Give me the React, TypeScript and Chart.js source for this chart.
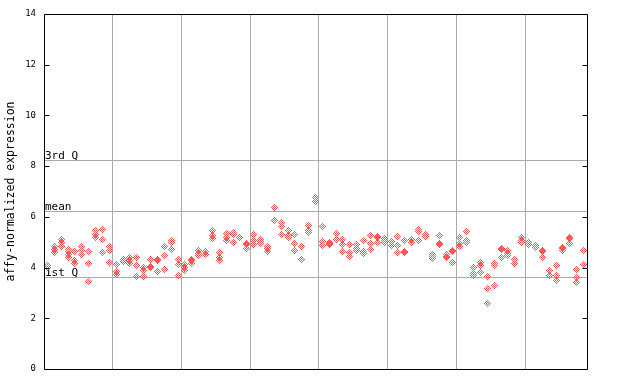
import React, { useEffect, useRef } from "react";
import { Chart, registerables } from "chart.js";

Chart.register(...registerables);

// Expression values, one inner list per sample column (10 columns per group)
const group1: number[][] = [
  [4.1, 4.0],
  [4.85, 4.72, 4.58],
  [5.11, 4.98, 4.85],
  [4.72, 4.64, 4.5, 4.38],
  [4.65, 4.27, 4.17],
  [4.82, 4.69, 4.52],
  [4.65, 4.18, 3.47],
  [5.46, 5.3, 5.18],
  [5.51, 5.09, 4.61],
  [4.85, 4.69, 4.2],
];
const group2: number[][] = [
  [4.13, 3.86, 3.73],
  [4.3, 4.22],
  [4.4, 4.27, 4.15],
  [4.4, 4.09, 3.65],
  [4.02, 3.9, 3.65],
  [4.3, 4.06, 4.0],
  [4.3, 4.26, 3.86],
  [4.84, 4.48, 3.93],
  [5.05, 4.98, 4.72],
  [4.32, 4.14, 3.69],
];
const group3: number[][] = [
  [4.13, 4.0, 3.9],
  [4.33, 4.27, 4.16],
  [4.67, 4.56, 4.46],
  [4.63, 4.51],
  [5.48, 5.26, 5.13],
  [4.6, 4.39, 4.27],
  [5.35, 5.19, 5.05],
  [5.38, 5.3, 4.99],
  [5.19],
  [4.94, 4.9, 4.76],
];
const group4: number[][] = [
  [5.32, 5.06, 4.91],
  [5.1, 5.03, 4.96],
  [4.85, 4.74, 4.64],
  [6.37, 5.86],
  [5.78, 5.63, 5.32],
  [5.48, 5.25, 5.19],
  [5.32, 4.93, 4.69],
  [4.83, 4.82, 4.3],
  [5.64, 5.48, 5.39],
  [6.77, 6.61],
];
const group5: number[][] = [
  [5.62, 5.02, 4.88],
  [5.0, 4.93, 4.9],
  [5.35, 5.09],
  [5.09, 4.92, 4.65],
  [4.92, 4.6, 4.43],
  [4.92, 4.76, 4.66],
  [5.05, 4.65, 4.56],
  [5.27, 4.93, 4.72],
  [5.24, 5.18, 4.97],
  [5.13, 5.05, 4.97],
];
const group6: number[][] = [
  [5.02, 4.86],
  [5.23, 4.88, 4.6],
  [5.05, 4.63, 4.58],
  [5.11, 4.98],
  [5.51, 5.43, 5.05],
  [5.32, 5.22],
  [4.5, 4.43, 4.36],
  [5.27, 4.94, 4.9],
  [4.5, 4.43, 4.4],
  [4.67, 4.64, 4.2],
];
const group7: number[][] = [
  [5.19, 4.93, 4.85],
  [5.43, 5.05, 4.97],
  [4.01, 3.76, 3.67],
  [4.19, 4.09, 3.81],
  [3.64, 3.19, 2.59],
  [4.17, 4.1, 3.3],
  [4.76, 4.7, 4.4],
  [4.67, 4.56, 4.48],
  [4.32, 4.17],
  [5.18, 5.05, 5.0],
];
const group8: number[][] = [
  [4.98, 4.92],
  [4.88, 4.8],
  [4.69, 4.63, 4.4],
  [3.89, 3.67],
  [4.09, 3.68, 3.5],
  [4.8, 4.76, 4.67],
  [5.18, 5.15, 4.93],
  [3.94, 3.6, 3.42],
  [4.69, 4.14],
];

const groups = [group1, group2, group3, group4, group5, group6, group7, group8];

// Reference lines
const thirdQuartile = 8.24;
const meanValue = 6.23;
const firstQuartile = 3.63;
const refLines: { label: string; value: number }[] = [
  { label: "3rd Q", value: thirdQuartile },
  { label: "mean", value: meanValue },
  { label: "1st Q", value: firstQuartile },
];

const yTicks = [0, 2, 4, 6, 8, 10, 12, 14];
const groupBoundaries = [9.5, 19.5, 29.5, 39.5, 49.5, 59.5, 69.5];
const yTitle = "affy-normalized expression";

const POINT_COLOR = "rgb(255,85,85)";
const GRID_COLOR = "#aaaaaa";

function makeDiamond(): HTMLCanvasElement {
  const c = document.createElement("canvas");
  c.width = 7;
  c.height = 7;
  const ctx = c.getContext("2d")!;
  ctx.fillStyle = POINT_COLOR;
  for (let dy = -3; dy <= 3; dy++) {
    for (let dx = -3; dx <= 3; dx++) {
      if (Math.abs(dx) + Math.abs(dy) <= 3 && Math.abs(dx + dy) % 2 === 1) {
        ctx.fillRect(dx + 3, dy + 3, 1, 1);
      }
    }
  }
  return c;
}

export default function App() {
  const canvasRef = useRef<HTMLCanvasElement | null>(null);

  useEffect(() => {
    if (!canvasRef.current) return;
    const points: { x: number; y: number }[] = [];
    let col = 0;
    groups.forEach((g) => {
      g.forEach((vals) => {
        vals.forEach((v) => points.push({ x: col, y: v }));
        col++;
      });
    });
    const diamond = makeDiamond();

    const framePlugin = {
      id: "frame",
      beforeDatasetsDraw(chart: any) {
        const { ctx, chartArea, scales } = chart;
        const y = scales.y;
        ctx.save();
        ctx.strokeStyle = GRID_COLOR;
        ctx.lineWidth = 1;
        refLines.forEach((r) => {
          const py = Math.round(y.getPixelForValue(r.value)) + 0.5;
          ctx.beginPath();
          ctx.moveTo(chartArea.left, py);
          ctx.lineTo(chartArea.right, py);
          ctx.stroke();
        });
        ctx.fillStyle = "#000";
        ctx.font = "11px 'DejaVu Sans Mono'";
        ctx.textAlign = "left";
        ctx.textBaseline = "alphabetic";
        refLines.forEach((r) => {
          const py = Math.round(y.getPixelForValue(r.value));
          ctx.fillText(r.label, chartArea.left + 1, py - 1);
        });
        ctx.restore();
        ctx.imageSmoothingEnabled = false;
      },
      afterDraw(chart: any) {
        const { ctx, chartArea, scales } = chart;
        const y = scales.y;
        const l = Math.round(chartArea.left) + 0.5;
        const r = Math.round(chartArea.right) + 0.5;
        const t = Math.round(chartArea.top) + 0.5;
        const b = Math.round(chartArea.bottom) + 0.5;
        ctx.save();
        ctx.strokeStyle = "#000";
        ctx.lineWidth = 1;
        ctx.beginPath();
        ctx.rect(l, t, r - l, b - t);
        ctx.stroke();
        yTicks.forEach((v) => {
          const py = Math.round(y.getPixelForValue(v)) + 0.5;
          ctx.beginPath();
          ctx.moveTo(l, py);
          ctx.lineTo(l + 5, py);
          ctx.moveTo(r, py);
          ctx.lineTo(r - 5, py);
          ctx.stroke();
        });
        ctx.restore();
      },
    };

    const chart = new Chart(canvasRef.current, {
      type: "scatter",
      data: {
        datasets: [
          {
            data: points,
            pointStyle: diamond as any,
            pointRadius: 3.5,
            pointHoverRadius: 3.5,
            backgroundColor: POINT_COLOR,
            borderColor: POINT_COLOR,
          },
        ],
      },
      options: {
        animation: false,
        responsive: false,
        events: [],
        layout: { padding: { top: 14, right: 53, bottom: 0, left: 0 } },
        plugins: {
          legend: { display: false },
          tooltip: { enabled: false },
        },
        scales: {
          x: {
            type: "linear",
            min: -0.5,
            max: 78.5,
            afterBuildTicks: (scale: any) => {
              scale.ticks = groupBoundaries.map((v) => ({ value: v }));
            },
            afterFit: (scale: any) => {
              scale.height = 15;
            },
            ticks: { display: false },
            grid: { color: GRID_COLOR, drawTicks: false, lineWidth: 1 },
            border: { display: false },
          },
          y: {
            type: "linear",
            min: 0,
            max: 14,
            afterBuildTicks: (scale: any) => {
              scale.ticks = yTicks.map((v) => ({ value: v }));
            },
            afterFit: (scale: any) => {
              scale.width = 44;
            },
            ticks: {
              color: "#000",
              padding: 8,
              font: { family: "'DejaVu Sans Mono'", size: 9 },
            },
            grid: { display: false, drawTicks: false },
            border: { display: false },
            title: {
              display: true,
              text: yTitle,
              color: "#000",
              font: { family: "'DejaVu Sans Mono'", size: 11.5 },
              padding: { top: 4, bottom: 0 },
            },
          },
        },
      },
      plugins: [framePlugin],
    });
    return () => chart.destroy();
  }, []);

  return (
    <div style={{ position: "fixed", left: 0, top: 0, width: 640, height: 384, background: "#fff" }}>
      <canvas ref={canvasRef} width={640} height={384} style={{ width: 640, height: 384 }} />
    </div>
  );
}
